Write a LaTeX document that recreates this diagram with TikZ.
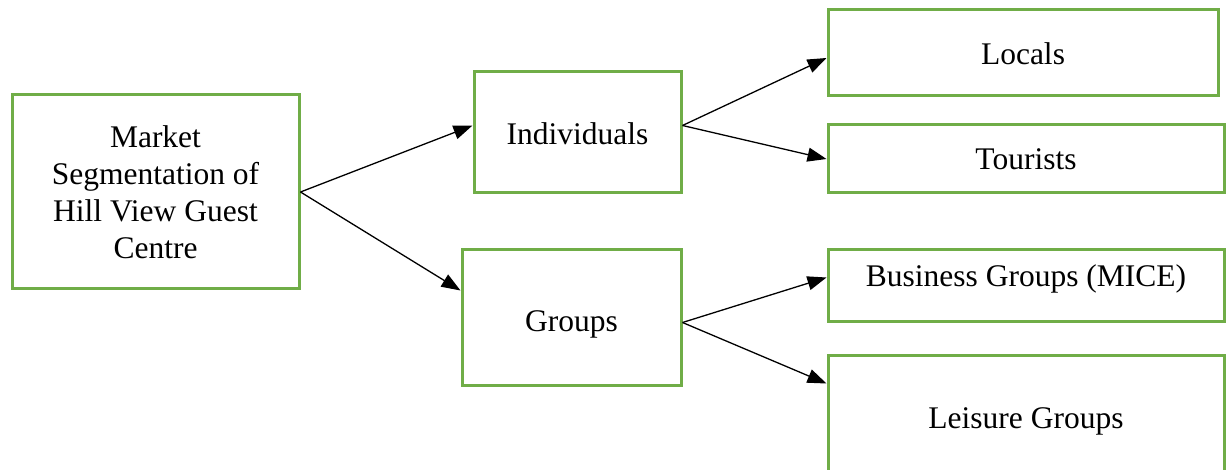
\documentclass[tikz,border=0pt]{standalone}
\usepackage{fontspec}
\setmainfont{Liberation Serif}
\usepackage{tikz}
\usetikzlibrary{positioning,arrows.meta}
\usepackage{xcolor}
\definecolor{boxgreen}{RGB}{112,173,71}

\begin{document}
\begin{tikzpicture}[x=1pt,y=1pt,>={Triangle[length=19pt,width=14pt]},
  seg/.style={draw=boxgreen,line width=3pt,fill=white,align=center,inner sep=0pt,
    font=\fontsize{31.5}{37}\selectfont},
  link/.style={->,line width=1.3pt}]
\clip (0,0) rectangle (1226,-470);
\node[seg,minimum width=287pt,minimum height=194pt] (market) at (155.5,-192) {Market\\Segmentation of\\Hill View Guest\\Centre};
\node[seg,minimum width=207pt,minimum height=121pt,text height=32pt,text depth=7pt] (indiv) at (577.5,-132.5) {Individuals};
\node[seg,minimum width=219pt,minimum height=135pt,text height=34pt,text depth=7pt] (groups) at (571.5,-317.5) {Groups};
\node[seg,minimum width=390pt,minimum height=86pt,text height=30pt,text depth=7pt] (locals) at (1023,-53) {Locals};
\node[seg,minimum width=396pt,minimum height=68pt] (tourists) at (1026,-159) {Tourists};
\node[seg,minimum width=396pt,minimum height=71pt,text height=22pt,text depth=19pt] (business) at (1026,-285.5) {Business Groups (MICE)};
\node[seg,minimum width=396pt,minimum height=127pt,text height=26pt,text depth=7pt] (leisure) at (1026,-418.5) {Leisure Groups};
% first level
\draw[link] (market.east) -- ([yshift=7pt]indiv.west);
\draw[link] (market.east) -- ([yshift=27pt]groups.west);
% second level
\draw[link] ([yshift=7pt]indiv.east) -- ([yshift=-5pt]locals.west);
\draw[link] ([yshift=7pt]indiv.east) -- (tourists.west);
\draw[link] ([yshift=-5pt]groups.east) -- ([yshift=8pt]business.west);
\draw[link] ([yshift=-5pt]groups.east) -- ([yshift=35pt]leisure.west);
\end{tikzpicture}
\end{document}
